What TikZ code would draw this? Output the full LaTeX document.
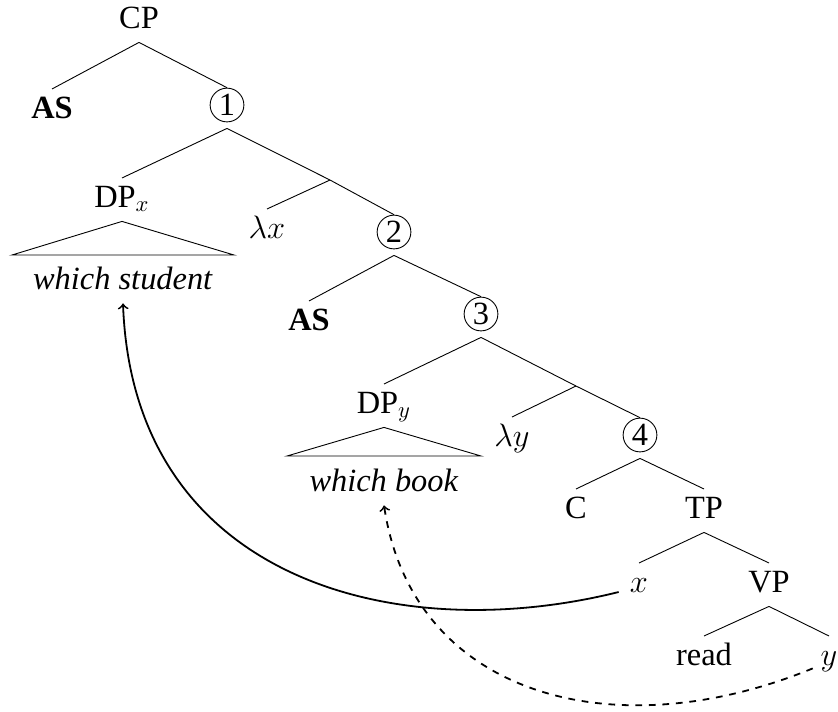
\documentclass[tikz,border=0pt]{standalone}
\usepackage{fontspec}
\setmainfont{Liberation Serif}
\usetikzlibrary{calc}
\begin{document}
\begin{tikzpicture}[x=0.4444pt,y=-0.4444pt,
  lbl/.style={anchor=base, inner xsep=3.33pt, inner ysep=2pt, text height=10.7pt, text depth=4.2pt, font=\fontsize{14.4}{17}\selectfont},
  circ/.style={circle, draw, line width=0.4pt, inner sep=0pt, minimum size=15pt, font=\fontsize{14.4}{17}\selectfont},
  edge/.style={line width=0.4pt},
  mv/.style={line width=0.8pt, ->}]
\useasboundingbox (0,0) rectangle (838,711);
\node[lbl] (CP) at (139,28) {CP};
\node[lbl] (AS1) at (52,118) {\textbf{AS}};
\node[circ] (c1) at (227,105) {1};
\node[lbl] (DPx) at (122,207) {DP$_x$};
\node[lbl] (ws) at (123,289) {\textit{which student}};
\coordinate (J1) at (330,180);
\node[lbl] (lx) at (267,238) {$\lambda x$};
\node[circ] (c2) at (394,232) {2};
\node[lbl] (AS2) at (309,330) {\textbf{AS}};
\node[circ] (c3) at (481,314) {3};
\node[lbl] (DPy) at (384,413) {DP$_y$};
\node[lbl] (wb) at (384,491) {\textit{which book}};
\coordinate (J2) at (576,386);
\node[lbl] (ly) at (512,446) {$\lambda y$};
\node[circ] (c4) at (640,435) {4};
\node[lbl] (C) at (576,518) {C};
\node[lbl] (TP) at (704,518) {TP};
\node[lbl] (x) at (639,592) {$x$};
\node[lbl] (VP) at (769,592) {VP};
\node[lbl] (read) at (704,665) {read};
\node[lbl] (y) at (829,665) {$y$};
% tree edges
\draw[edge] (CP.south) -- (AS1.north);
\draw[edge] (CP.south) -- (c1.north);
\draw[edge] ([yshift=-2.7pt]c1.south) -- (DPx.north);
\draw[edge] ([yshift=-2.7pt]c1.south) -- (J1) -- (c2.north);
\draw[edge] (J1) -- (lx.north);
\draw[edge] ([yshift=-2.7pt]c2.south) -- (AS2.north);
\draw[edge] ([yshift=-2.7pt]c2.south) -- (c3.north);
\draw[edge] ([yshift=-2.7pt]c3.south) -- (DPy.north);
\draw[edge] ([yshift=-2.7pt]c3.south) -- (J2) -- (c4.north);
\draw[edge] (J2) -- (ly.north);
\draw[edge] ([yshift=-2.7pt]c4.south) -- (C.north);
\draw[edge] ([yshift=-2.7pt]c4.south) -- (TP.north);
\draw[edge] (TP.south) -- (x.north);
\draw[edge] (TP.south) -- (VP.north);
\draw[edge] (VP.south) -- (read.north);
\draw[edge] (VP.south) -- (y.north);
% roofs
\draw[edge] (DPx.south) -- ($(ws.base)+(-111,-34)$) -- ($(ws.base)+(111,-34)$) -- cycle;
\draw[edge] (DPy.south) -- ($(wb.base)+(-97,-35)$) -- ($(wb.base)+(97,-35)$) -- cycle;
% movement arrows
\draw[mv] ([xshift=-1.5pt]x.base west) .. controls +(-225,56) and +(10,275) .. (ws.south);
\draw[mv,dashed] ([yshift=-1.5pt]y.base west) .. controls +(-200,82) and +(28.5,190) .. (wb.south);
\end{tikzpicture}
\end{document}
